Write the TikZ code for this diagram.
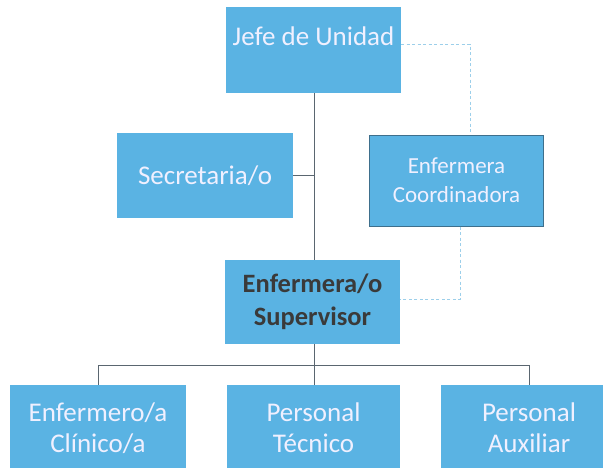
\documentclass[tikz,border=0pt]{standalone}
\usepackage{fontspec}
\setmainfont{Carlito}
\definecolor{boxblue}{HTML}{5AB3E3}
\definecolor{boxedge}{HTML}{3E6F8C}
\definecolor{linegray}{HTML}{5A6670}
\definecolor{dashblue}{HTML}{9CCFEA}
\definecolor{darktext}{HTML}{3A3A3A}
\begin{document}
\begin{tikzpicture}[x=1pt,y=-1pt,
  orgbox/.style={fill=boxblue, draw=none, minimum width=175pt, minimum height=86pt,
    inner sep=0pt, align=center, text=white!94!blue, font=\fontsize{27}{31}\selectfont},
  solidline/.style={draw=linegray, line width=0.8pt},
  dashline/.style={draw=dashblue, line width=0.8pt, dash pattern=on 3pt off 2.5pt}]
\useasboundingbox (0,0) rectangle (603,467);
\fill[white] (0,0) rectangle (603,467);
\node[orgbox] (jefe) at (313.5,50) {Jefe de Unidad\\[-3pt]~};
\node[orgbox, minimum width=176pt, minimum height=85pt] (sec) at (205,175.5) {Secretaria/o};
\node[orgbox, minimum width=174pt, minimum height=91pt, draw=boxedge, line width=1pt,
  font=\fontsize{23}{29}\selectfont] (coord) at (456.5,180.5) {Enfermera\\Coordinadora};
\node[orgbox, minimum height=84pt, text=darktext, font=\bfseries\fontsize{26.5}{33}\selectfont] (sup) at (312.5,302) {Enfermera/o\\Supervisor};
\node[orgbox, minimum width=176pt] (enf) at (98,428) {Enfermero/a\\Clínico/a};
\node[orgbox, minimum width=173pt] (tec) at (313.5,428) {Personal\\Técnico};
\node[orgbox, minimum width=176pt] (aux) at (529,428) {Personal\\Auxiliar};
% solid connectors
\coordinate (trunkS) at (314,175.5);
\draw[solidline] (jefe.south -| trunkS) -- (sup.north -| trunkS);
\draw[solidline] (sec.east) -- (trunkS);
\coordinate (bar) at (314,365);
\draw[solidline] (sup.south -| bar) -- (bar);
\draw[solidline] (enf.north) -- (enf.north |- bar) -- (aux.north |- bar) -- (aux.north);
\draw[solidline] (bar) -- (tec.north -| bar);
% dashed connectors
\coordinate (dj) at (470,44);
\draw[dashline] (jefe.east |- dj) -- (dj) -- (coord.north -| dj);
\coordinate (dc) at (460,299);
\draw[dashline] (coord.south -| dc) -- (dc) -- (sup.east |- dc);
\end{tikzpicture}
\end{document}
